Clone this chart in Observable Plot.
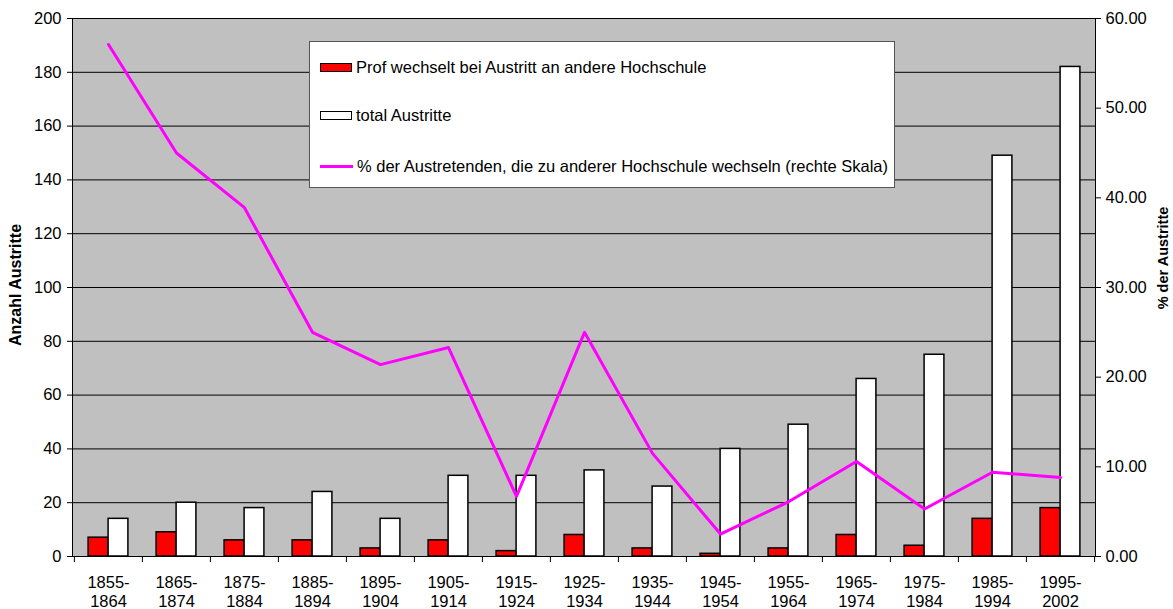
<!DOCTYPE html>
<html><head><meta charset="utf-8">
<script src="https://cdn.jsdelivr.net/npm/d3@7"></script>
<script src="https://cdn.jsdelivr.net/npm/@observablehq/plot@0.6"></script>
<style>
body{margin:0;background:#fff;font-family:"Liberation Sans",Arial,sans-serif;}
#wrap{position:relative;width:1173px;height:609px;overflow:hidden;}
#legend{position:absolute;left:309px;top:41px;width:584px;height:145px;background:#fff;border:1px solid #555;font-size:16.5px;color:#000;}
.item{position:absolute;left:10px;display:flex;align-items:center;white-space:nowrap;}
.sw{width:30px;height:7px;border:1.5px solid #000;margin-right:4px;}
.ln{width:33px;height:3px;background:#ff00ff;margin-right:4px;}
.ytitle{position:absolute;font-weight:bold;white-space:nowrap;transform:translate(-50%,-50%) rotate(-90deg);}
</style></head>
<body><div id="wrap"></div>
<script>
const categories = ["1855-\n1864","1865-\n1874","1875-\n1884","1885-\n1894","1895-\n1904","1905-\n1914","1915-\n1924","1925-\n1934","1935-\n1944","1945-\n1954","1955-\n1964","1965-\n1974","1975-\n1984","1985-\n1994","1995-\n2002"];
const profWechsel = [7,9,6,6,3,6,2,8,3,1,3,8,4,14,18];
const totalAustritte = [14,20,18,24,14,30,30,32,26,40,49,66,75,149,182];
const prozentWechsel = [57.1,45.0,38.9,25.0,21.4,23.3,6.7,25.0,11.5,2.5,6.1,10.6,5.3,9.4,8.8];
const leftTicks = [0,20,40,60,80,100,120,140,160,180,200];
const rightTicks = [0,10,20,30,40,50,60];
const seriesNames = ["Prof wechselt bei Austritt an andere Hochschule","total Austritte","% der Austretenden, die zu anderer Hochschule wechseln (rechte Skala)"];

const W = 1173, H = 609, mL = 72, mR = 78, mT = 18, mB = 53;
const bw = (W - mL - mR) / categories.length;
const barW = 20;
const leftMax = 200, rightMax = 60;
const toLeft = p => p * leftMax / rightMax;

const rows = categories.map((c, i) => ({cat: c, prof: profWechsel[i], total: totalAustritte[i], pct: prozentWechsel[i]}));

const chart = Plot.plot({
  width: W, height: H,
  marginLeft: mL, marginRight: mR, marginTop: mT, marginBottom: mB,
  style: {fontFamily: "'Liberation Sans', Arial, sans-serif", fontSize: "16.5px", background: "transparent", overflow: "visible"},
  x: {type: "band", domain: categories, padding: 0, axis: null},
  y: {domain: [0, leftMax], axis: null},
  marks: [
    Plot.frame({fill: "#c0c0c0", stroke: null}),
    Plot.gridY(leftTicks, {stroke: "#000", strokeOpacity: 1, strokeWidth: 1}),
    Plot.barY(rows, {x: "cat", y: "prof", fill: "#ff0000", stroke: "#000", strokeWidth: 1.5, insetLeft: bw/2 - barW, insetRight: bw/2}),
    Plot.barY(rows, {x: "cat", y: "total", fill: "#ffffff", stroke: "#000", strokeWidth: 1.5, insetLeft: bw/2, insetRight: bw/2 - barW}),
    Plot.lineY(rows, {x: "cat", y: d => toLeft(d.pct), stroke: "#ff00ff", strokeWidth: 3}),
    Plot.frame({stroke: "#000", strokeWidth: 1}),
    Plot.axisY({anchor: "left", ticks: leftTicks, tickSize: 5, tickPadding: 6, label: null, fontSize: 16.5}),
    Plot.axisY({anchor: "right", ticks: rightTicks.map(toLeft), tickFormat: d => (d * rightMax / leftMax).toFixed(2), tickSize: 5, tickPadding: 5, label: null, fontSize: 16.5}),
    Plot.axisX({ticks: categories, tickSize: 0, tickPadding: 18, label: null, fontSize: 16.5, lineHeight: 1.15}),
    Plot.ruleX(categories, {x: d => d, y1: 0, y2: 0, insetBottom: -6, dx: -bw/2, stroke: "#000"}),
    Plot.ruleX(categories.slice(-1), {x: d => d, y1: 0, y2: 0, insetBottom: -6, dx: bw/2, stroke: "#000"})
  ]
});

const wrap = document.getElementById("wrap");
wrap.appendChild(chart);

const legend = document.createElement("div");
legend.id = "legend";
legend.innerHTML =
  `<div class="item" style="top:16px"><div class="sw" style="background:#ff0000"></div>${seriesNames[0]}</div>` +
  `<div class="item" style="top:64px"><div class="sw" style="background:#ffffff"></div>${seriesNames[1]}</div>` +
  `<div class="item" style="top:115px"><div class="ln"></div>${seriesNames[2]}</div>`;
wrap.appendChild(legend);

const t1 = document.createElement("div");
t1.className = "ytitle"; t1.textContent = "Anzahl Austritte";
t1.style.fontSize = "16px";
t1.style.left = "16px"; t1.style.top = "285px";
wrap.appendChild(t1);
const t2 = document.createElement("div");
t2.className = "ytitle"; t2.textContent = "% der Austritte";
t2.style.fontSize = "14.5px";
t2.style.left = "1163px"; t2.style.top = "258px";
wrap.appendChild(t2);
</script>
</body></html>
